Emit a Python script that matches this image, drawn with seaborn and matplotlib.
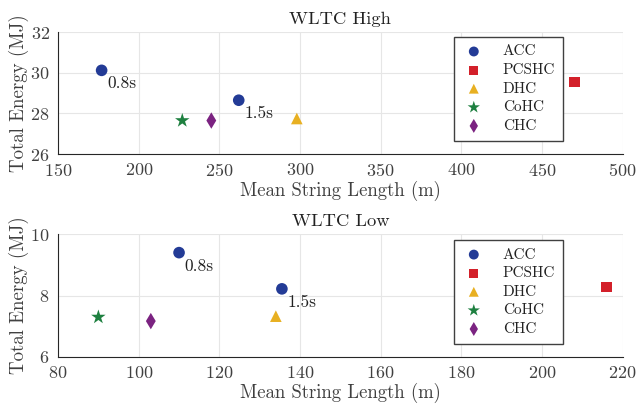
import matplotlib
matplotlib.use("Agg")
import matplotlib.pyplot as plt
import seaborn as sns
import pandas as pd

methods = ["ACC", "ACC", "PCSHC", "DHC", "CoHC", "CHC"]
high_len = [177, 262, 470, 298, 227, 245]
high_energy = [30.12, 28.65, 29.55, 27.75, 27.65, 27.65]
low_len = [110, 135.5, 216, 134, 90, 103]
low_energy = [9.4, 8.22, 8.28, 7.33, 7.3, 7.17]
acc_labels = ["0.8s", "1.5s"]

order = ["ACC", "PCSHC", "DHC", "CoHC", "CHC"]
palette = {"ACC": "#233b96", "PCSHC": "#d3202a", "DHC": "#e8b022",
           "CoHC": "#1e8040", "CHC": "#7b2381"}
markers = {"ACC": "o", "PCSHC": "s", "DHC": "^", "CoHC": "*", "CHC": "d"}
sizes = {"ACC": 70, "PCSHC": 60, "DHC": 70, "CoHC": 120, "CHC": 70}

sns.set_style("white")
plt.rcParams["font.family"] = ["cmr10", "DejaVu Serif"]
plt.rcParams["axes.formatter.use_mathtext"] = True
plt.rcParams["mathtext.fontset"] = "cm"
txt = "#404040"

fig = plt.figure(figsize=(6.38, 4.12), dpi=100)
ax1 = fig.add_axes([0.091, 0.626, 0.885, 0.296])
ax2 = fig.add_axes([0.091, 0.1335, 0.885, 0.298])

panels = [
    (ax1, high_len, high_energy, "WLTC High", (150, 500), (26, 32),
     [150, 200, 250, 300, 350, 400, 450, 500], [26, 28, 30, 32], (0.894, 0.959)),
    (ax2, low_len, low_energy, "WLTC Low", (80, 220), (6, 10),
     [80, 100, 120, 140, 160, 180, 200, 220], [6, 8, 10], (0.894, 0.951)),
]

for ax, xs, ys, title, xl, yl, xt, yt, anchor in panels:
    df = pd.DataFrame({"len": xs, "energy": ys, "method": methods})
    for m in order:
        sub = df[df["method"] == m]
        sns.scatterplot(data=sub, x="len", y="energy", ax=ax, color=palette[m],
                        marker=markers[m], s=sizes[m], edgecolor="none",
                        label=m, zorder=3)
    accs = df[df["method"] == "ACC"].reset_index(drop=True)
    for i, lab in enumerate(acc_labels):
        ax.annotate(lab, (accs.loc[i, "len"], accs.loc[i, "energy"]),
                    xytext=(4, -13), textcoords="offset points",
                    fontsize=12.5, color="#222222")
    ax.set_xlim(*xl)
    ax.set_ylim(*yl)
    ax.set_xticks(xt)
    ax.set_yticks(yt)
    ax.grid(True, color="#e6e6e6", linewidth=0.8)
    ax.set_axisbelow(True)
    for s in ["top", "right"]:
        ax.spines[s].set_visible(False)
    for s in ["left", "bottom"]:
        ax.spines[s].set_color("#262626")
        ax.spines[s].set_linewidth(0.8)
    ax.tick_params(direction="in", length=3, labelsize=13, colors="#262626",
                   labelcolor=txt)
    ax.tick_params(axis="x", pad=6)
    ax.tick_params(axis="y", pad=6)
    ax.set_title(title, fontsize=13.3, color="#222222", pad=6)
    ax.set_xlabel("Mean String Length (m)", fontsize=13.5, color=txt, labelpad=1)
    ax.set_ylabel("Total Energy (MJ)", fontsize=13.6, color=txt, labelpad=1)
    leg = ax.legend(loc="upper right", bbox_to_anchor=anchor, fontsize=11,
                    frameon=True, fancybox=False, edgecolor="#404040",
                    framealpha=1, handletextpad=1.1, borderpad=0.5,
                    labelspacing=0.32, markerscale=0.85, borderaxespad=0,
                    handlelength=1.6)
    leg.get_frame().set_linewidth(1.0)
    for t in leg.get_texts():
        t.set_color("#222222")

fig.savefig("out.png", dpi=100)
